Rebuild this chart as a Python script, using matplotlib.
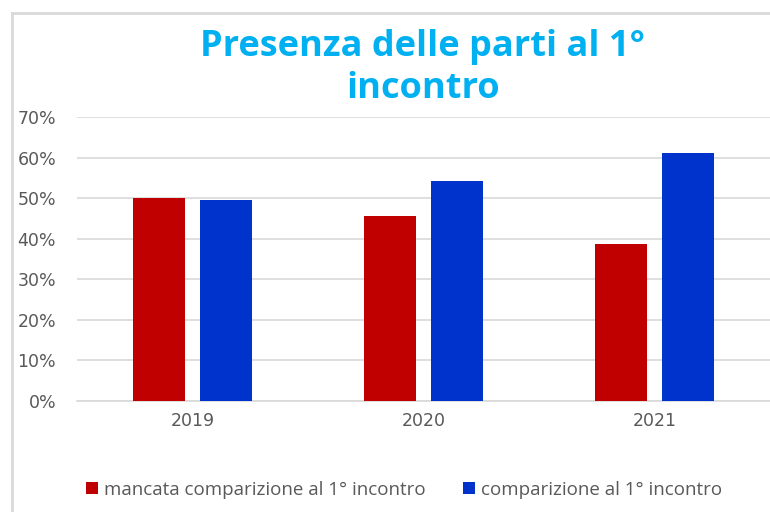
import numpy as np
import matplotlib
matplotlib.use('Agg')
import matplotlib.pyplot as plt
from matplotlib.ticker import PercentFormatter
from matplotlib.lines import Line2D

anni = ['2019', '2020', '2021']
mancata = [0.500, 0.457, 0.388]
comparizione = [0.496, 0.542, 0.612]
serie_nomi = ['mancata comparizione al 1° incontro', 'comparizione al 1° incontro']
colori = ['#C00000', '#0033CC']
grigio_testo = '#595959'

plt.rcParams['font.family'] = ['Open Sans', 'DejaVu Sans']

fig = plt.figure(figsize=(7.7, 5.12), dpi=100)
ax = fig.add_axes([77 / 770, 1 - 401 / 512, 1 - 77 / 770, (401 - 117) / 512])

x = np.arange(len(anni))
larghezza = 0.225
ax.bar(x - 0.143, mancata, larghezza, color=colori[0], label=serie_nomi[0], zorder=3)
ax.bar(x + 0.143, comparizione, larghezza, color=colori[1], label=serie_nomi[1], zorder=3)

ax.set_xlim(-0.5, len(anni) - 0.5)
ax.set_ylim(0, 0.7)
ax.set_yticks(np.arange(0, 0.71, 0.1))
ax.yaxis.set_major_formatter(PercentFormatter(1.0, decimals=0))
ax.set_xticks(x)
ax.set_xticklabels(anni)
ax.tick_params(axis='both', length=0, colors=grigio_testo, labelsize=12.5)
ax.tick_params(axis='x', pad=8)
ax.tick_params(axis='y', pad=15)
for lab in ax.get_xticklabels() + ax.get_yticklabels():
    lab.set_family('DejaVu Sans')
ax.grid(axis='y', color='#D9D9D9', linewidth=1.2, zorder=0)
for lato in ['top', 'right', 'left']:
    ax.spines[lato].set_visible(False)
ax.spines['bottom'].set_color('#D9D9D9')
ax.spines['bottom'].set_linewidth(1.2)

fig.text(0.549, 0.908, 'Presenza delle parti al 1°', ha='center', va='center',
         fontsize=26, fontweight='bold', color='#00B0F0')
fig.text(0.549, 0.826, 'incontro', ha='center', va='center',
         fontsize=26, fontweight='bold', color='#00B0F0')

fig.legend(loc='center', bbox_to_anchor=(0.525, 0.043), ncol=2, frameon=False,
           fontsize=13.5, labelcolor=grigio_testo, handlelength=0.6, handleheight=0.6,
           handletextpad=0.35, columnspacing=2.0)

# cornice del grafico
fig.add_artist(Line2D([12 / 770, 12 / 770], [0, 1 - 13 / 512], transform=fig.transFigure,
                      color='#D9D9D9', linewidth=2))
fig.add_artist(Line2D([12 / 770, 1], [1 - 13 / 512, 1 - 13 / 512], transform=fig.transFigure,
                      color='#D9D9D9', linewidth=2))

fig.savefig('out.png', dpi=100)
